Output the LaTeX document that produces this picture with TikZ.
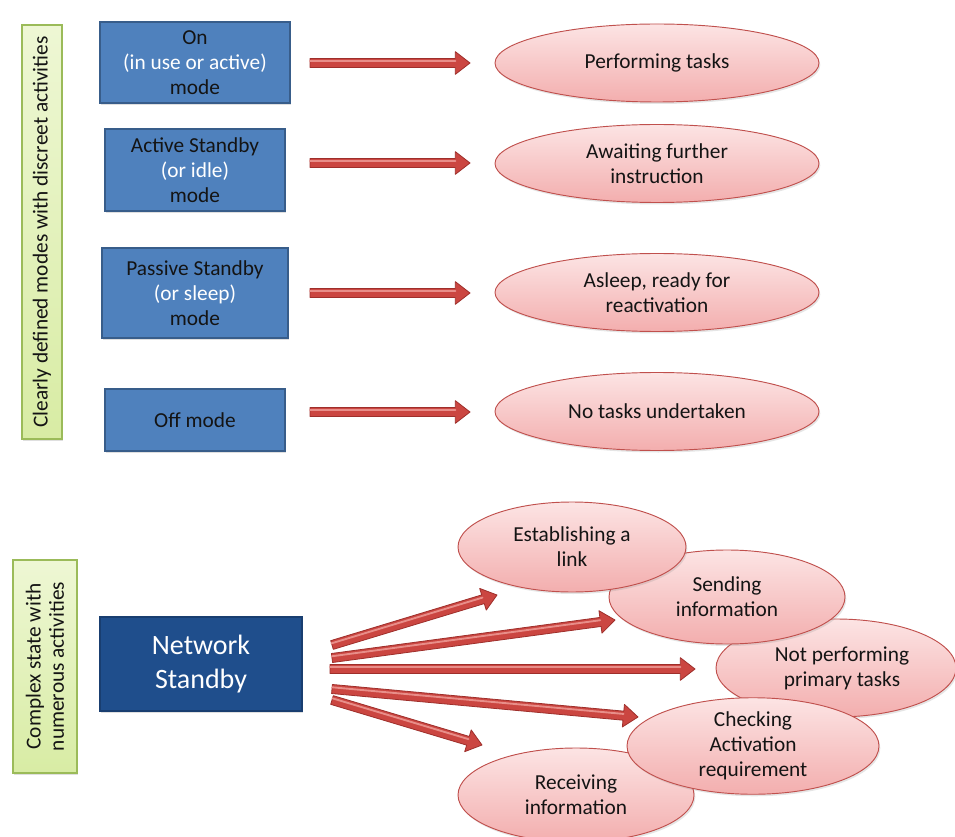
\documentclass[tikz,border=0pt]{standalone}
\usepackage{fontspec}
\setmainfont{Carlito}
\usetikzlibrary{calc,shapes.geometric,shadows}
\definecolor{boxblue}{HTML}{4F81BD}
\definecolor{boxblueline}{HTML}{385D8A}
\definecolor{netblue}{HTML}{1F4E8C}
\definecolor{greentop}{HTML}{EEF7D4}
\definecolor{greenbot}{HTML}{D8ECA4}
\definecolor{greenline}{HTML}{9BBB59}
\definecolor{pinktop}{HTML}{FCE4E4}
\definecolor{pinkbot}{HTML}{F3AEAE}
\definecolor{pinkline}{HTML}{C0504D}
\definecolor{arrfillc}{HTML}{CB4641}
\definecolor{arrdrawc}{HTML}{9E2F2B}
\definecolor{arrhic}{HTML}{E88E89}
\definecolor{darktext}{HTML}{141414}
\newcommand\blockarr[2]{%
  \coordinate (hb) at ($(#2)!11pt!(#1)$);
  \filldraw[fill=arrfillc, draw=arrdrawc, line width=0.6pt, line join=round]
    ($(#1)!3.4pt!90:(#2)$) -- ($(hb)!3.4pt!-90:(#1)$) -- ($(hb)!8.5pt!-90:(#1)$) -- (#2)
    -- ($(hb)!8.5pt!90:(#1)$) -- ($(hb)!3.4pt!90:(#1)$) -- ($(#1)!3.4pt!-90:(#2)$) -- cycle;
  \draw[arrhic, line width=1.4pt, line cap=round] ($(#1)!1.3pt!90:(#2)$) -- ($(hb)!1.3pt!-90:(#1)$);
}
\tikzset{
  txt/.style={font=\fontsize{16pt}{18.75pt}\selectfont},
  modebox/.style={rectangle, fill=boxblue, draw=boxblueline, line width=0.8pt, align=center,
    inner sep=0pt, txt, text=darktext, drop shadow={opacity=0.25, shadow xshift=1pt, shadow yshift=-1.2pt}},
  netbox/.style={rectangle, fill=netblue, draw=netblue!80!black, line width=0.8pt, align=center,
    inner sep=0pt, text=white, font=\fontsize{21pt}{26pt}\selectfont,
    drop shadow={opacity=0.25, shadow xshift=1pt, shadow yshift=-1.2pt}},
  greenbox/.style={rectangle, top color=greentop, bottom color=greenbot, draw=greenline, line width=0.8pt,
    align=center, inner sep=0pt, txt, text=darktext, rotate=90,
    drop shadow={opacity=0.25, shadow xshift=1pt, shadow yshift=-1.2pt}},
  stateell/.style={ellipse, top color=pinktop, bottom color=pinkbot, draw=pinkline, line width=0.7pt,
    align=center, inner sep=0pt, txt, text=darktext,
    drop shadow={opacity=0.2, shadow xshift=1pt, shadow yshift=-1.5pt}}
}
\begin{document}
\begin{tikzpicture}[x=0.75pt,y=-0.75pt]
\useasboundingbox[fill=white] (0,0) rectangle (955,837);

% left labels
\node[greenbox, minimum width=310.5pt, minimum height=30pt] (g1) at (42,232)
  {Clearly defined modes with discreet activities};
\node[greenbox, minimum width=159.75pt, minimum height=48pt, font=\fontsize{16pt}{17.5pt}\selectfont] (g2) at (45,666.5)
  {Complex state with\\numerous activities};

% mode boxes
\node[modebox, minimum width=142.5pt, minimum height=60.75pt] (on) at (195,62.5)
  {On\\\textcolor{white}{(in use or active)}\\mode};
\node[modebox, minimum width=135pt, minimum height=61.5pt] (act) at (195,170)
  {Active Standby\\\textcolor{white}{(or idle)}\\mode};
\node[modebox, minimum width=139.5pt, minimum height=67.5pt] (pas) at (195,293)
  {Passive Standby\\\textcolor{white}{(or sleep)}\\mode};
\node[modebox, minimum width=135pt, minimum height=46.5pt] (off) at (195,420)
  {Off mode};
\node[netbox, minimum width=151.5pt, minimum height=70.5pt] (net) at (201,664)
  {Network\\Standby};

% top ellipses
\node[stateell, minimum width=243pt, minimum height=58.5pt] (perf) at (657,63) {Performing tasks};
\node[stateell, minimum width=243pt, minimum height=58.5pt] (await) at (657,163.5) {Awaiting further\\instruction};
\node[stateell, minimum width=243pt, minimum height=58.5pt] (sleep) at (657,292.5) {Asleep, ready for\\reactivation};
\node[stateell, minimum width=243pt, minimum height=58.5pt] (none) at (657,411.5) {No tasks undertaken};

% top arrows
\coordinate (t1s) at (310,63);  \coordinate (t1e) at (470,63);
\coordinate (t2s) at (310,163); \coordinate (t2e) at (470,163);
\coordinate (t3s) at (310,293); \coordinate (t3e) at (470,293);
\coordinate (t4s) at (310,412); \coordinate (t4e) at (470,412);
\blockarr{t1s}{t1e}
\blockarr{t2s}{t2e}
\blockarr{t3s}{t3e}
\blockarr{t4s}{t4e}

% bottom ellipses (drawing order gives the overlaps)
\node[stateell, minimum width=177pt, minimum height=70.5pt] (rcv) at (576,795) {Receiving\\information};
\node[stateell, minimum width=180pt, minimum height=73.5pt] (notp) at (836,668) {\hspace*{9pt}Not performing\\\hspace*{9pt}primary tasks};
\node[stateell, minimum width=189pt, minimum height=69pt] (chk) at (753,746) {Checking\\Activation\\requirement};
\node[stateell, minimum width=177pt, minimum height=70.5pt] (snd) at (727,597) {Sending\\information};
\node[stateell, minimum width=171pt, minimum height=67.5pt] (est) at (572,547) {Establishing a\\link};

% bottom arrows
\coordinate (b1s) at (332,645); \coordinate (b1e) at (497,595);
\coordinate (b2s) at (332,658); \coordinate (b2e) at (615,620);
\coordinate (b3s) at (330,669); \coordinate (b3e) at (695,669);
\coordinate (b4s) at (332,689); \coordinate (b4e) at (638,717);
\coordinate (b5s) at (332,700); \coordinate (b5e) at (482,745);
\blockarr{b1s}{b1e}
\blockarr{b2s}{b2e}
\blockarr{b3s}{b3e}
\blockarr{b4s}{b4e}
\blockarr{b5s}{b5e}
\end{tikzpicture}
\end{document}
